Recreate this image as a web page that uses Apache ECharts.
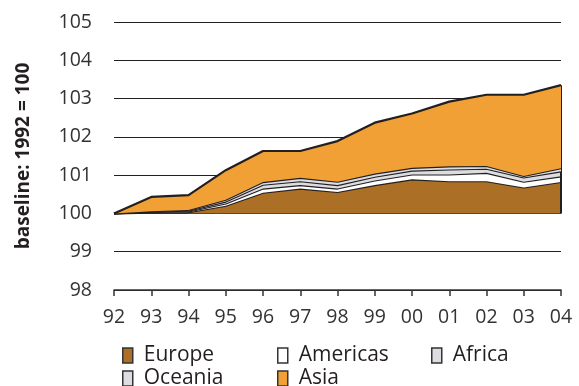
<!DOCTYPE html>
<html>
<head>
<meta charset="utf-8">
<script src="https://cdn.jsdelivr.net/npm/echarts@6/dist/echarts.min.js"></script>
<style>html,body{margin:0;padding:0;background:#fff}#c{width:579px;height:386px}</style>
</head>
<body>
<div id="c"></div>
<script>
const years = ['92','93','94','95','96','97','98','99','00','01','02','03','04'];
const yTicks = [98, 99, 100, 101, 102, 103, 104, 105];
// Europe: index level (1992 = 100)
const europe   = [100, 100.02, 100.03, 100.20, 100.54, 100.65, 100.56, 100.74, 100.89, 100.84, 100.84, 100.68, 100.82];
// contributions stacked on top
const americas = [0, 0.02, 0.02, 0.06, 0.11, 0.09, 0.09, 0.12, 0.13, 0.18, 0.22, 0.15, 0.15];
const africa   = [0, 0.01, 0.02, 0.05, 0.10, 0.10, 0.09, 0.10, 0.10, 0.13, 0.11, 0.11, 0.13];
const oceania  = [0, 0.01, 0.02, 0.05, 0.07, 0.09, 0.09, 0.08, 0.07, 0.08, 0.07, 0.04, 0.08];
const asia     = [0, 0.37, 0.39, 0.77, 0.81, 0.70, 1.06, 1.33, 1.42, 1.69, 1.86, 2.12, 2.17];
const names = ['Europe', 'Americas', 'Africa', 'Oceania', 'Asia'];
const colors = ['#ab6f25', '#ffffff', '#dcdde0', '#dcdde0', '#f0a035'];
const seriesData = [europe, americas, africa, oceania, asia];

const FONT = '"Open Sans", "Noto Sans", sans-serif';
const LINE = '#231f20';

const chart = echarts.init(document.getElementById('c'), null, {renderer: 'canvas'});

const topValue = years.map((_, i) => seriesData.reduce((s, arr) => s + arr[i], 0));
const lastIdx = years.length - 1;

const series = names.map((n, k) => {
  const s = {
    name: n,
    type: 'line',
    stack: 'total',
    data: seriesData[k],
    symbol: 'none',
    smooth: false,
    lineStyle: {color: LINE, width: 2.2},
    itemStyle: {color: colors[k], borderColor: LINE, borderWidth: 1},
    areaStyle: {color: colors[k], opacity: 1},
    z: 2 + k,
    emphasis: {disabled: true}
  };
  if (k === 0) s.areaStyle.origin = 100;
  if (k === names.length - 1) {
    s.markLine = {
      silent: true, symbol: 'none', label: {show: false},
      lineStyle: {color: LINE, width: 2, type: 'solid'},
      data: [[{coord: [years[lastIdx], 100]}, {coord: [years[lastIdx], topValue[lastIdx]]}]]
    };
  }
  return s;
});

const legendPos = [
  {left: 122, top: 345}, {left: 277, top: 345}, {left: 431, top: 345},
  {left: 122, top: 368}, {left: 277, top: 368}
];
const legends = names.map((n, k) => ({
  data: [n],
  left: legendPos[k].left,
  top: legendPos[k].top,
  orient: 'horizontal',
  itemWidth: 10,
  itemHeight: 15,
  itemGap: 0,
  selectedMode: false,
  icon: 'rect',
  itemStyle: {color: colors[k], borderColor: '#333', borderWidth: 1.5},
  textStyle: {fontFamily: FONT, fontSize: 21, color: '#231f20', padding: [0, 0, 0, 6]},
  padding: 0
}));

chart.setOption({
  animation: false,
  backgroundColor: '#fff',
  grid: {left: 114, right: 18, top: 22, bottom: 96},
  legend: legends,
  xAxis: {
    type: 'category',
    data: years,
    boundaryGap: false,
    axisLine: {show: true, lineStyle: {color: '#333', width: 1.5}},
    axisTick: {show: true, length: 6, alignWithLabel: true, lineStyle: {color: '#333', width: 1.5}},
    axisLabel: {fontFamily: FONT, fontSize: 19.5, color: '#333', margin: 17},
    splitLine: {show: false}
  },
  yAxis: {
    type: 'value',
    min: yTicks[0],
    max: yTicks[yTicks.length - 1],
    interval: 1,
    name: 'baseline: 1992 = 100',
    nameLocation: 'middle',
    nameGap: 81,
    nameRotate: 90,
    nameTextStyle: {fontFamily: FONT, fontSize: 19, fontWeight: 'bold', color: '#231f20'},
    axisLine: {show: false},
    axisTick: {show: false},
    axisLabel: {fontFamily: FONT, fontSize: 19.5, color: '#333', margin: 22},
    splitLine: {show: true, lineStyle: {color: LINE, width: 1}}
  },
  series: series
});
</script>
</body>
</html>
